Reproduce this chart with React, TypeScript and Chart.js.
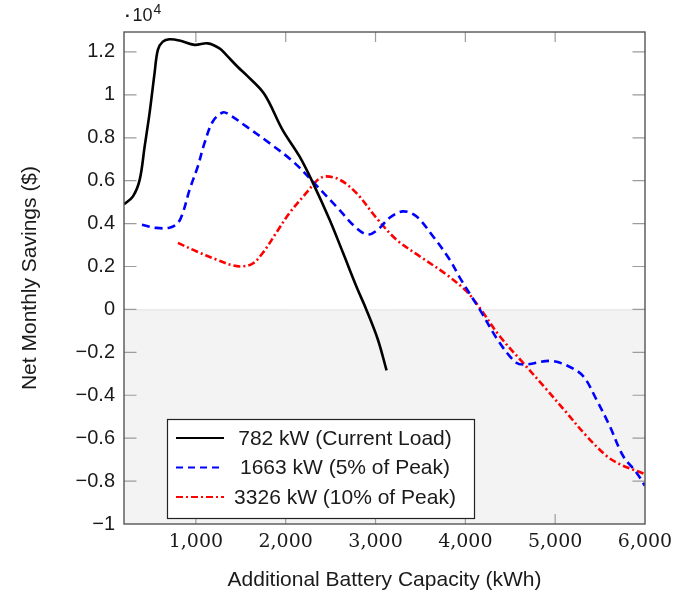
import React, { useEffect, useRef } from "react";
import { Chart, registerables } from "chart.js";

Chart.register(...registerables);

// ---------- data (y values in $) ----------
const SERIES_LABELS = [
  "782 kW (Current Load)",
  "1663 kW (5% of Peak)",
  "3326 kW (10% of Peak)",
];

const LOAD_782_X = [200, 300, 375, 430, 485, 540, 577, 632, 707, 818, 985, 1133, 1263, 1338, 1467, 1561, 1760, 1965, 2154, 2303, 2488, 2637, 2786, 2897, 3026, 3123];
const LOAD_782_Y = [4900, 5270, 6050, 7600, 9160, 11000, 12100, 12480, 12590, 12530, 12330, 12400, 12170, 11860, 11300, 10930, 10050, 8370, 7130, 5900, 4190, 2650, 1080, 0, -1400, -2840];

const LOAD_1663_X = [400, 560, 707, 800, 855, 930, 1022, 1096, 1189, 1300, 1375, 1561, 1820, 2080, 2303, 2563, 2786, 2915, 3026, 3157, 3305, 3454, 3639, 3825, 3950, 4159, 4381, 4567, 4679, 4938, 5124, 5309, 5458, 5607, 5755, 5904, 6000];
const LOAD_1663_Y = [3950, 3800, 3810, 4030, 4500, 5580, 6670, 7750, 8760, 9180, 9070, 8530, 7750, 6900, 5950, 4800, 3800, 3490, 3720, 4270, 4570, 4340, 3410, 2330, 1400, 0, -1550, -2480, -2560, -2400, -2600, -3100, -4190, -5430, -6820, -7600, -8220];

const LOAD_3326_X = [800, 1004, 1226, 1412, 1523, 1634, 1746, 1895, 2043, 2229, 2303, 2377, 2452, 2600, 2786, 3009, 3231, 3491, 3788, 4011, 4159, 4381, 4641, 4902, 5124, 5347, 5570, 5718, 5904, 6000];
const LOAD_3326_Y = [3100, 2710, 2330, 2050, 2010, 2140, 2640, 3570, 4500, 5430, 5800, 6100, 6200, 6050, 5430, 4270, 3260, 2480, 1630, 850, 80, -1240, -2480, -3720, -4800, -5890, -6820, -7210, -7520, -7670];

const X_TICKS = [1000, 2000, 3000, 4000, 5000, 6000];
const Y_TICKS = [-10000, -8000, -6000, -4000, -2000, 0, 2000, 4000, 6000, 8000, 10000, 12000];
const X_MIN = 200;
const X_MAX = 6000;
const Y_MIN = -10000;
const Y_MAX = 12930;

const X_TITLE = "Additional Battery Capacity (kWh)";
const Y_TITLE = "Net Monthly Savings ($)";
const EXP_BASE = "10";
const EXP_POWER = "4";

const SANS = "'Liberation Sans', Arial, Helvetica, sans-serif";
const SERIF = "'DejaVu Serif', 'Liberation Serif', serif";

const fmtY = (v: number) => {
  const s = Math.round(v / 1000) / 10;
  if (s === 0) return "0";
  return s < 0 ? "\u2212" + String(Math.abs(s)) : String(s);
};
const fmtX = (v: number) => v.toLocaleString("en-US");

const toPts = (xs: number[], ys: number[]) => xs.map((x, i) => ({ x, y: ys[i] }));

const decorPlugin = {
  id: "decor",
  beforeDatasetsDraw(chart: any) {
    const { ctx, chartArea: a, scales } = chart;
    const x = scales.x;
    const y = scales.y;
    const y0 = y.getPixelForValue(0);
    ctx.save();
    ctx.fillStyle = "#f3f3f3";
    ctx.fillRect(a.left, y0, a.right - a.left, a.bottom - y0);
    ctx.strokeStyle = "#e4e4e4";
    ctx.lineWidth = 1;
    ctx.beginPath();
    ctx.moveTo(a.left, y0 + 0.5);
    ctx.lineTo(a.right, y0 + 0.5);
    ctx.stroke();

    ctx.strokeStyle = "#9c9c9c";
    ctx.lineWidth = 1.2;
    ctx.beginPath();
    X_TICKS.forEach((v) => {
      const px = x.getPixelForValue(v);
      if (px < a.left + 1 || px > a.right - 1) return;
      ctx.moveTo(px, a.bottom);
      ctx.lineTo(px, a.bottom - 10);
      ctx.moveTo(px, a.top);
      ctx.lineTo(px, a.top + 10);
    });
    Y_TICKS.forEach((v) => {
      const py = y.getPixelForValue(v);
      if (py < a.top + 1 || py > a.bottom - 1) return;
      ctx.moveTo(a.left, py);
      ctx.lineTo(a.left + 12.5, py);
      ctx.moveTo(a.right, py);
      ctx.lineTo(a.right - 12.5, py);
    });
    ctx.stroke();
    ctx.restore();
  },
  afterDatasetsDraw(chart: any) {
    const { ctx, chartArea: a } = chart;
    ctx.save();
    // frame
    ctx.strokeStyle = "#555";
    ctx.lineWidth = 1.4;
    ctx.strokeRect(a.left, a.top, a.right - a.left, a.bottom - a.top);

    // legend
    const bx = a.left + 43;
    const by = a.bottom - 105;
    const bw = 307;
    const bh = 99;
    ctx.fillStyle = "#fff";
    ctx.fillRect(bx, by, bw, bh);
    ctx.strokeStyle = "#222";
    ctx.lineWidth = 1.2;
    ctx.strokeRect(bx + 0.5, by + 0.5, bw, bh);
    const rows = [19, 48.5, 78];
    chart.data.datasets.forEach((ds: any, i: number) => {
      const cy = by + rows[i];
      ctx.save();
      ctx.strokeStyle = ds.borderColor;
      ctx.lineWidth = 2.2;
      ctx.setLineDash(ds.legendDash || []);
      ctx.beginPath();
      ctx.moveTo(bx + 9, cy);
      ctx.lineTo(bx + 57, cy);
      ctx.stroke();
      ctx.restore();
      ctx.fillStyle = "#1a1a1a";
      ctx.font = `21px ${SANS}`;
      ctx.textAlign = "center";
      ctx.textBaseline = "middle";
      ctx.fillText(ds.label, bx + 178, cy + 1);
    });

    // exponent label
    ctx.fillStyle = "#1a1a1a";
    ctx.textBaseline = "middle";
    ctx.textAlign = "left";
    ctx.font = `bold 17px ${SANS}`;
    ctx.fillText("\u00b7", a.left + 1, 16);
    ctx.font = `18px ${SANS}`;
    ctx.fillText(EXP_BASE, a.left + 8.5, 16.5);
    ctx.font = `14px ${SANS}`;
    ctx.fillText(EXP_POWER, a.left + 29.5, 10.5);
    ctx.restore();
  },
};

export default function App() {
  const ref = useRef<HTMLCanvasElement | null>(null);

  useEffect(() => {
    if (!ref.current) return;
    const chart = new Chart(ref.current, {
      type: "line",
      data: {
        datasets: [
          {
            label: SERIES_LABELS[0],
            data: toPts(LOAD_782_X, LOAD_782_Y),
            borderColor: "#000000",
            borderWidth: 2.6,
            pointRadius: 0,
            tension: 0.35,
            legendDash: [],
          } as any,
          {
            label: SERIES_LABELS[1],
            data: toPts(LOAD_1663_X, LOAD_1663_Y),
            borderColor: "#0000ff",
            borderWidth: 2.6,
            borderDash: [8, 5],
            pointRadius: 0,
            tension: 0.35,
            legendDash: [7, 5],
          } as any,
          {
            label: SERIES_LABELS[2],
            data: toPts(LOAD_3326_X, LOAD_3326_Y),
            borderColor: "#ff0000",
            borderWidth: 2.6,
            borderDash: [7, 3, 2, 3],
            pointRadius: 0,
            tension: 0.35,
            legendDash: [7, 3, 2, 3],
          } as any,
        ],
      },
      options: {
        animation: false,
        responsive: false,
        maintainAspectRatio: false,
        layout: { padding: { top: 32, right: 45, left: 0, bottom: 0 } },
        plugins: { legend: { display: false }, tooltip: { enabled: false } },
        scales: {
          x: {
            type: "linear",
            min: X_MIN,
            max: X_MAX,
            afterBuildTicks: (s: any) => {
              s.ticks = X_TICKS.map((v) => ({ value: v }));
            },
            afterFit: (s: any) => {
              s.height = 72;
            },
            grid: { display: false, drawTicks: false },
            border: { display: false },
            ticks: {
              callback: (v: any) => fmtX(Number(v)),
              font: { family: SERIF, size: 19 },
              color: "#1a1a1a",
              padding: 7,
              maxRotation: 0,
              autoSkip: false,
            },
            title: {
              display: true,
              text: X_TITLE,
              font: { family: SANS, size: 21 },
              color: "#1a1a1a",
              padding: { top: 0, bottom: 3 },
            },
          },
          y: {
            type: "linear",
            min: Y_MIN,
            max: Y_MAX,
            afterBuildTicks: (s: any) => {
              s.ticks = Y_TICKS.map((v) => ({ value: v }));
            },
            afterFit: (s: any) => {
              s.width = 124;
            },
            grid: { display: false, drawTicks: false },
            border: { display: false },
            ticks: {
              callback: (v: any) => fmtY(Number(v)),
              font: { family: SANS, size: 20 },
              color: "#1a1a1a",
              padding: 9,
              autoSkip: false,
            },
            title: {
              display: true,
              text: Y_TITLE,
              font: { family: SANS, size: 21 },
              color: "#1a1a1a",
              padding: { top: 18, bottom: 0 },
            },
          },
        },
      } as any,
      plugins: [decorPlugin],
    });
    return () => chart.destroy();
  }, []);

  return (
    <div style={{ position: "absolute", left: 0, top: 0, width: 690, height: 596, background: "#fff" }}>
      <canvas ref={ref} width={690} height={596} style={{ width: 690, height: 596, display: "block" }} />
    </div>
  );
}
